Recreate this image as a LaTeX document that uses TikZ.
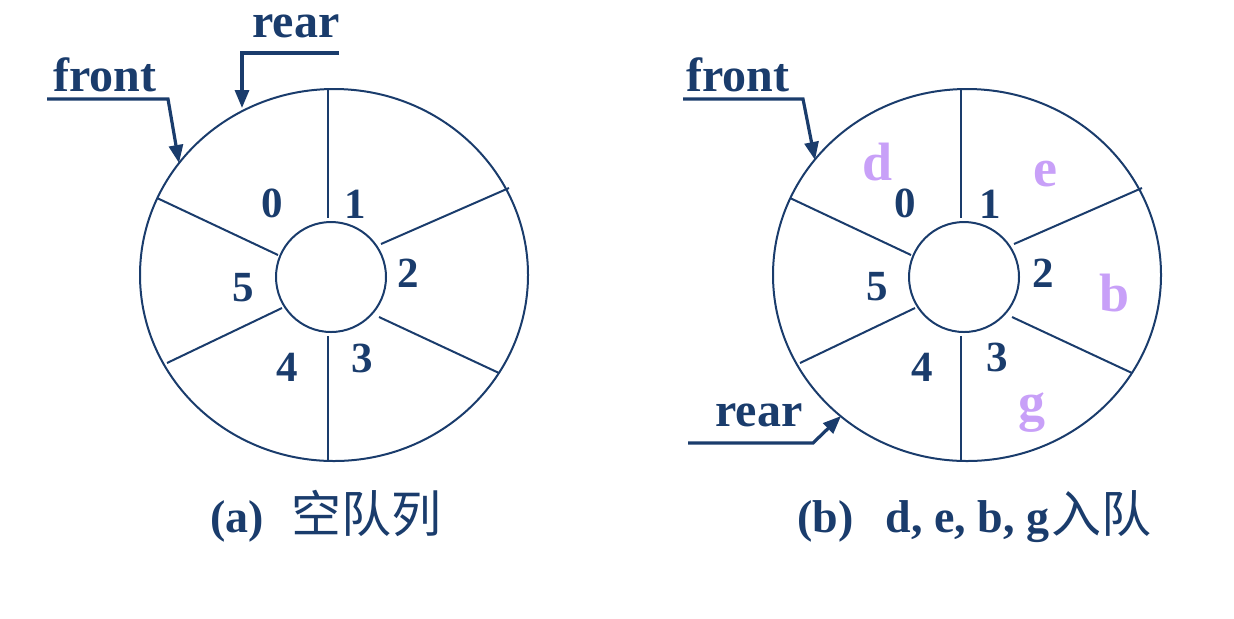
\documentclass[tikz,border=0pt]{standalone}
\usepackage{fontspec}
\setmainfont{Liberation Serif}
\newfontfamily\cjk{Noto Sans CJK SC}
\usetikzlibrary{arrows.meta}
\definecolor{navy}{RGB}{26,60,108}
\definecolor{lilac}{RGB}{200,160,248}
\begin{document}
\begin{tikzpicture}[x=0.5pt,y=-0.5pt,
  ring/.style={draw=navy,line width=1pt},
  ptr/.style={draw=navy,line width=1.6pt,-{Triangle[length=9pt,width=7pt]}},
  idx/.style={text=navy,font=\bfseries\fontsize{21.5pt}{23pt}\selectfont,inner sep=0pt},
  lbl/.style={text=navy,font=\bfseries\fontsize{24pt}{26pt}\selectfont,inner sep=0pt,anchor=base},
  elem/.style={text=lilac,font=\bfseries\fontsize{27pt}{29pt}\selectfont,inner sep=0pt,anchor=base},
  captxt/.style={text=navy,font=\bfseries\fontsize{23pt}{25pt}\selectfont,inner sep=0pt,anchor=base west},
  cjktxt/.style={text=navy,font=\cjk\fontsize{25pt}{27pt}\selectfont,inner sep=0pt,anchor=base east}]
\useasboundingbox (0,0) rectangle (1234,618);

% ---------- (a) ----------
\begin{scope}
  \draw[ring] (334,275) ellipse [x radius=194, y radius=186];
  \draw[ring] (331,277) circle [radius=55];
  \draw[ring] (328,88) -- (328,218);
  \draw[ring] (328,336) -- (328,462);
  \draw[ring] (381,244) -- (509,188);
  \draw[ring] (278,255) -- (157,198);
  \draw[ring] (282,308) -- (167,363);
  \draw[ring] (379,317) -- (499,373);
  \node[idx] (a0) at (272,203) {0};
  \node[idx] (a1) at (355,204) {1};
  \node[idx] (a2) at (408,273) {2};
  \node[idx] (a3) at (362,358) {3};
  \node[idx] (a4) at (287,367) {4};
  \node[idx] (a5) at (243,288) {5};
  \node[lbl] (afront) at (105,91) {front};
  \node[lbl] (arear) at (296,37) {rear};
  \coordinate (af1) at (47,99);
  \coordinate (af2) at (168,99);
  \coordinate (af3) at (179,163);
  \draw[ptr] (af1) -- (af2) -- (af3);
  \coordinate (ar1) at (339,53);
  \coordinate (ar2) at (242,53);
  \coordinate (ar3) at (242,108);
  \draw[ptr] (ar1) -- (ar2) -- (ar3);
  \node[captxt] (acap) at (210,532) {(a)};
  \node[cjktxt] (acjk) at (442,532) {空队列};
\end{scope}

% ---------- (b) ----------
\begin{scope}[xshift=633*0.5pt]
  \draw[ring] (334,275) ellipse [x radius=194, y radius=186];
  \draw[ring] (331,277) circle [radius=55];
  \draw[ring] (328,88) -- (328,218);
  \draw[ring] (328,336) -- (328,462);
  \draw[ring] (381,244) -- (509,188);
  \draw[ring] (278,255) -- (157,198);
  \draw[ring] (282,308) -- (167,363);
  \draw[ring] (379,317) -- (499,373);
\end{scope}
\node[idx] (b0) at (905,203) {0};
\node[idx] (b1) at (990,204) {1};
\node[idx] (b2) at (1043,273) {2};
\node[idx] (b3) at (997,357) {3};
\node[idx] (b4) at (922,367) {4};
\node[idx] (b5) at (877,287) {5};
\node[elem] (bd) at (877,180) {d};
\node[elem] (be) at (1045,186) {e};
\node[elem] (bb) at (1114,311) {b};
\node[elem] (bg) at (1032,420) {g};
\node[lbl] (bfront) at (738,91) {front};
\node[lbl] (brear) at (759,426) {rear};
\coordinate (bf1) at (683,99);
\coordinate (bf2) at (803,99);
\coordinate (bf3) at (815,160);
\draw[ptr] (bf1) -- (bf2) -- (bf3);
\coordinate (br1) at (688,443);
\coordinate (br2) at (813,443);
\coordinate (br3) at (841,416);
\draw[ptr] (br1) -- (br2) -- (br3);
\node[captxt] (bcap) at (797,532) {(b)\hspace{0.7em}d, e, b, g};
\node[cjktxt] (bcjk) at (1152,532) {入队};
\end{tikzpicture}
\end{document}
